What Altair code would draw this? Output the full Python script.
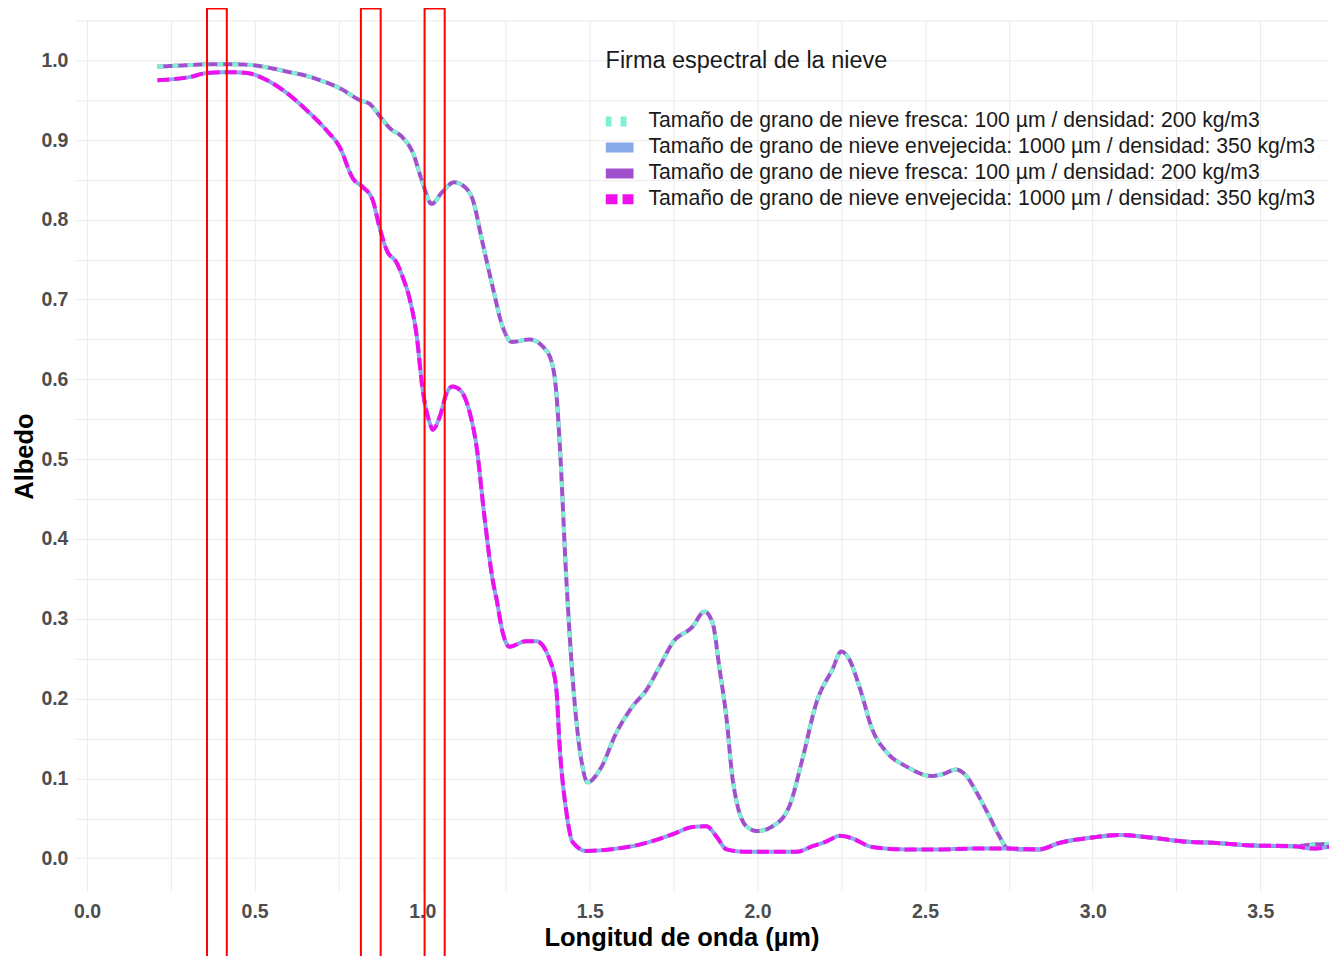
import altair as alt
import pandas as pd

# ---- data ----
fresh_wl = [0.21, 0.31, 0.36, 0.43, 0.49, 0.55, 0.605, 0.65, 0.695, 0.754, 0.814, 0.844,
            0.873, 0.903, 0.942, 0.972, 1.0, 1.028, 1.058, 1.095, 1.127, 1.15, 1.18, 1.21,
            1.24, 1.267, 1.32, 1.36, 1.386, 1.40, 1.41, 1.43, 1.449, 1.478, 1.493, 1.53,
            1.58, 1.627, 1.669, 1.708, 1.747, 1.806, 1.842, 1.866, 1.887, 1.908, 1.926,
            1.967, 2.0, 2.045, 2.095, 2.134, 2.176, 2.224, 2.25, 2.274, 2.304, 2.343,
            2.385, 2.444, 2.52, 2.55, 2.593, 2.623, 2.653, 2.691, 2.721, 2.745, 2.78,
            2.84, 2.9, 3.0, 3.08, 3.17, 3.27, 3.37, 3.47, 3.6, 3.654, 3.726]
fresh_albedo = [0.992, 0.994, 0.995, 0.995, 0.994, 0.990, 0.985, 0.981, 0.975, 0.965, 0.950,
                0.945, 0.930, 0.915, 0.903, 0.884, 0.848, 0.820, 0.834, 0.847, 0.841, 0.826,
                0.771, 0.716, 0.666, 0.647, 0.650, 0.641, 0.622, 0.583, 0.520, 0.349, 0.224,
                0.115, 0.095, 0.111, 0.158, 0.190, 0.211, 0.240, 0.270, 0.290, 0.309, 0.295,
                0.237, 0.174, 0.099, 0.040, 0.034, 0.040, 0.065, 0.124, 0.195, 0.237, 0.259,
                0.249, 0.215, 0.161, 0.133, 0.115, 0.103, 0.105, 0.111, 0.103, 0.083, 0.053,
                0.028, 0.013, 0.011, 0.011, 0.019, 0.026, 0.029, 0.026, 0.021, 0.019, 0.016,
                0.015, 0.017, 0.018]

aged_wl = [0.21, 0.307, 0.358, 0.426, 0.477, 0.537, 0.596, 0.656, 0.715, 0.754, 0.793,
           0.823, 0.852, 0.873, 0.894, 0.924, 0.942, 0.963, 0.984, 1.0, 1.022, 1.031,
           1.052, 1.073, 1.09, 1.112, 1.142, 1.162, 1.185, 1.21, 1.222, 1.24, 1.26, 1.31,
           1.34, 1.38, 1.40, 1.41, 1.43, 1.449, 1.49, 1.559, 1.648, 1.747, 1.806, 1.848,
           1.878, 1.908, 1.967, 2.116, 2.164, 2.206, 2.245, 2.274, 2.343, 2.444, 2.543,
           2.64, 2.742, 2.84, 2.9, 3.0, 3.08, 3.17, 3.27, 3.37, 3.47, 3.6, 3.654, 3.726]
aged_albedo = [0.975, 0.979, 0.984, 0.985, 0.984, 0.975, 0.959, 0.937, 0.912, 0.891, 0.852,
               0.841, 0.825, 0.790, 0.762, 0.746, 0.728, 0.700, 0.653, 0.591, 0.546, 0.537,
               0.553, 0.583, 0.591, 0.587, 0.558, 0.516, 0.430, 0.349, 0.324, 0.283, 0.265,
               0.272, 0.272, 0.249, 0.212, 0.140, 0.058, 0.020, 0.009, 0.011, 0.017, 0.030,
               0.039, 0.040, 0.027, 0.011, 0.008, 0.008, 0.015, 0.021, 0.028, 0.026, 0.014,
               0.011, 0.011, 0.012, 0.012, 0.011, 0.019, 0.026, 0.029, 0.026, 0.021, 0.019,
               0.016, 0.015, 0.012, 0.016]

L1 = "Tamaño de grano de nieve fresca: 100 µm / densidad: 200 kg/m3"
L2 = "Tamaño de grano de nieve envejecida: 1000 µm / densidad: 350 kg/m3"
L3 = L1 + " "
L4 = L2 + " "
series_names = [L1, L2, L3, L4]
series_colors = ["#7FF0D4", "#8AA9EA", "#A050CC", "#EE11EE"]
series_dashes = [[6, 9], [1, 0], [1, 0], [12, 5]]

# highlighted bands (red rectangles)
band_start = [0.358, 0.817, 1.007]
band_end = [0.417, 0.876, 1.067]
band_top = [1.065, 1.065, 1.065]
band_bottom = [-0.134, -0.134, -0.134]

rows = []
for name, wl, al in [(L3, fresh_wl, fresh_albedo), (L1, fresh_wl, fresh_albedo),
                     (L2, aged_wl, aged_albedo), (L4, aged_wl, aged_albedo)]:
    for w, a in zip(wl, al):
        rows.append({"serie": name, "wl": w, "albedo": a})
df = pd.DataFrame(rows)
bands = pd.DataFrame({"x": band_start, "x2": band_end, "y": band_top, "y2": band_bottom})

FONT = "Liberation Sans"
xticks = [i * 0.25 for i in range(0, 15)]
yticks = [round(i * 0.05, 2) for i in range(0, 22)]

x_scale = alt.Scale(domain=[-0.036, 3.705], nice=False, zero=False)
y_scale = alt.Scale(domain=[-0.042, 1.05], nice=False, zero=False)

legend = alt.Legend(
    title="Firma espectral de la nieve", orient="none", legendX=531, legendY=29,
    titleFontSize=23.5, titleFont=FONT, titleFontWeight="normal", titleColor="#1a1a1a",
    titlePadding=36, labelFontSize=21.2, labelFont=FONT, labelColor="#1a1a1a",
    symbolType="stroke", symbolSize=784, symbolStrokeWidth=10, symbolOffset=-5,
    clipHeight=25.3, rowPadding=0,
    labelOffset=10, padding=0, labelLimit=0, titleLimit=0,
)

x_enc = alt.X("wl:Q", scale=x_scale, title="Longitud de onda (µm)",
              axis=alt.Axis(values=xticks, titleX=607, titleAlign="center",
                            labelExpr="abs(datum.value*2 - round(datum.value*2)) < 0.001 ? format(datum.value, '.1f') : ''"))
y_enc = alt.Y("albedo:Q", scale=y_scale, title="Albedo",
              axis=alt.Axis(values=yticks,
                            labelExpr="abs(datum.value*10 - round(datum.value*10)) < 0.001 ? format(datum.value, '.1f') : ''"))
color_enc = alt.Color("serie:N", scale=alt.Scale(domain=series_names, range=series_colors), legend=legend)
dash_enc = alt.StrokeDash("serie:N", scale=alt.Scale(domain=series_names, range=series_dashes), legend=legend)


def line_layer(name):
    return alt.Chart(df).transform_filter(alt.datum.serie == name).mark_line(
        strokeWidth=4, interpolate="monotone", clip=True
    ).encode(x=x_enc, y=y_enc, color=color_enc, strokeDash=dash_enc, detail="serie:N")


rects = alt.Chart(bands).mark_rect(fillOpacity=0, stroke="red", strokeWidth=2, clip=False).encode(
    x=alt.X("x:Q", scale=x_scale), x2="x2:Q", y=alt.Y("y:Q", scale=y_scale), y2="y2:Q"
)

chart = alt.layer(
    line_layer(L3), line_layer(L1), line_layer(L2), line_layer(L4), rects
).properties(
    width=1255, height=872, background="white",
    autosize=alt.AutoSizeParams(type="none"),
    padding={"left": 67, "top": 12, "right": 0, "bottom": 64},
).configure_view(stroke=None).configure_axis(
    grid=True, gridColor="#EBEBEB", gridWidth=1, domain=False, ticks=False,
    labelFont=FONT, labelFontSize=19.5, labelFontWeight="bold", labelColor="#4D4D4D",
    titleFont=FONT, titleFontSize=25.5, titleFontWeight="bold", titleColor="#000000",
    labelOverlap=False,
).configure_axisX(labelPadding=11, titlePadding=4).configure_axisY(
    labelPadding=7, titlePadding=3
)

chart.save("out.html", embed_options={"renderer": "svg", "actions": False})
